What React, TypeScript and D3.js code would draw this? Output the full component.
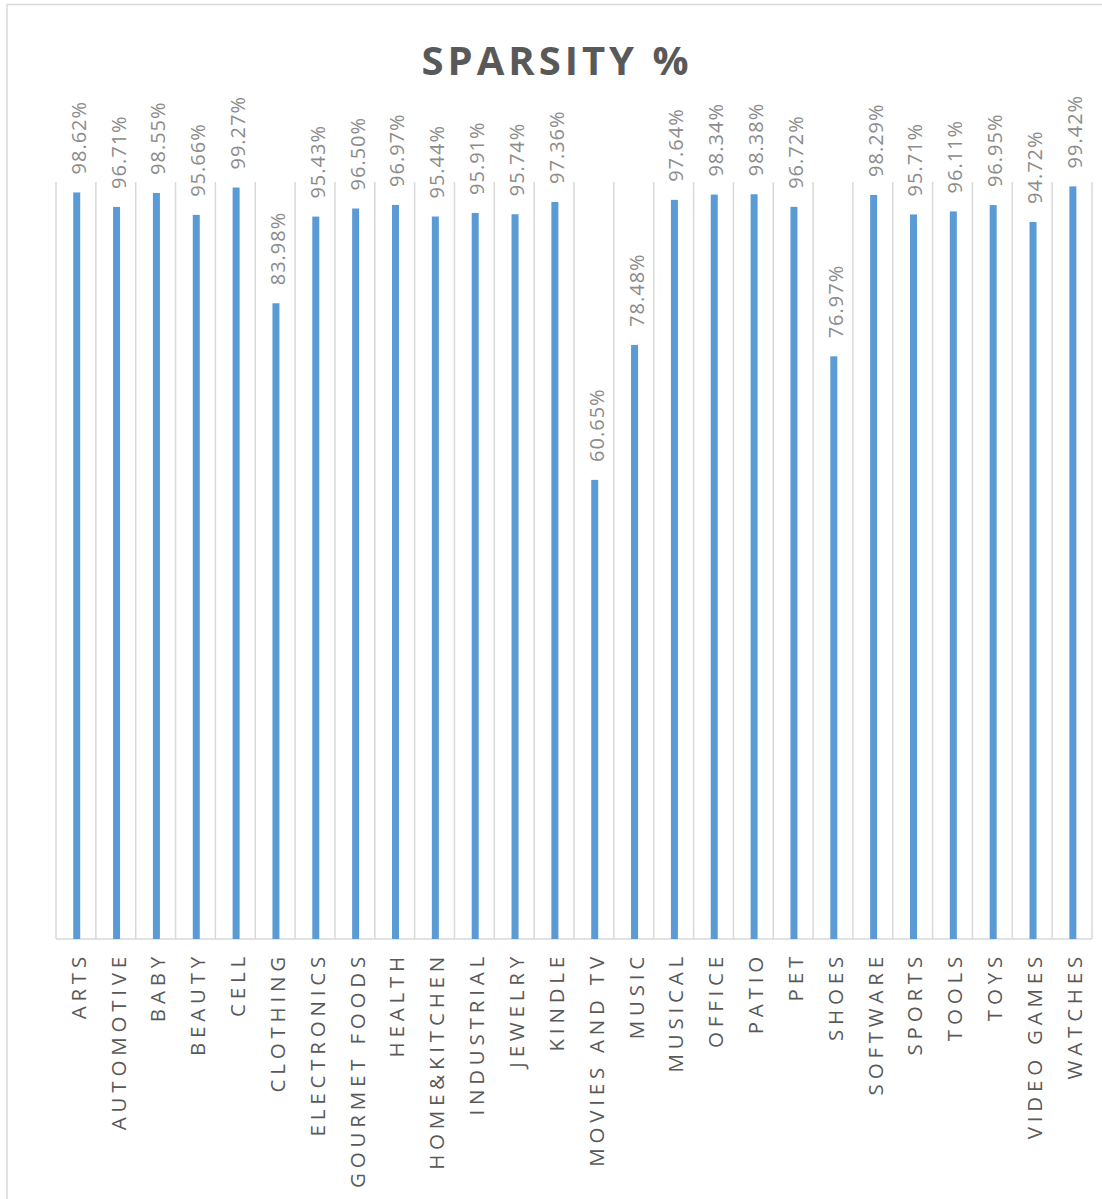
import React from "react";
import * as d3 from "d3";

const categories = [
  "ARTS", "AUTOMOTIVE", "BABY", "BEAUTY", "CELL", "CLOTHING", "ELECTRONICS",
  "GOURMET FOODS", "HEALTH", "HOME&KITCHEN", "INDUSTRIAL", "JEWELRY", "KINDLE",
  "MOVIES AND TV", "MUSIC", "MUSICAL", "OFFICE", "PATIO", "PET", "SHOES",
  "SOFTWARE", "SPORTS", "TOOLS", "TOYS", "VIDEO GAMES", "WATCHES",
];
const sparsity = [
  98.62, 96.71, 98.55, 95.66, 99.27, 83.98, 95.43, 96.5, 96.97, 95.44, 95.91,
  95.74, 97.36, 60.65, 78.48, 97.64, 98.34, 98.38, 96.72, 76.97, 98.29, 95.71,
  96.11, 96.95, 94.72, 99.42,
];
const yDomain = [0, 100];
const title = "SPARSITY %";

const W = 1102;
const H = 1199;
const plot = { left: 56, right: 1092, top: 182, bottom: 939 };
const FONT = "'Open Sans', 'DejaVu Sans', sans-serif";

export default function App() {
  const x = d3
    .scaleBand<string>()
    .domain(categories)
    .range([plot.left, plot.right])
    .paddingInner(0)
    .paddingOuter(0);
  const y = d3.scaleLinear().domain(yDomain).range([plot.bottom, plot.top]);
  const barW = 7;
  const bw = x.bandwidth();
  const gridXs = d3.range(categories.length + 1).map((i) => plot.left + i * bw);

  return (
    <svg
      width={W}
      height={H}
      style={{ position: "absolute", left: 0, top: 0, background: "#fff" }}
    >
      <rect x={0} y={0} width={W} height={H} fill="#fff" />
      <rect
        x={7}
        y={4.5}
        width={W + 20}
        height={H + 20}
        fill="none"
        stroke="#d9d9d9"
        strokeWidth={1.5}
      />
      <text
        x={557}
        y={75}
        textAnchor="middle"
        fontFamily={FONT}
        fontWeight={700}
        fontSize={40}
        fill="#595959"
        style={{ letterSpacing: "4px" }}
      >
        {title}
      </text>
      {gridXs.map((gx, i) => (
        <line
          key={"g" + i}
          x1={gx}
          x2={gx}
          y1={plot.top}
          y2={plot.bottom}
          stroke="#d9d9d9"
          strokeWidth={1.5}
        />
      ))}
      <line
        x1={plot.left}
        x2={plot.right}
        y1={plot.bottom}
        y2={plot.bottom}
        stroke="#d9d9d9"
        strokeWidth={1.5}
      />
      {categories.map((c, i) => {
        const cx = (x(c) as number) + bw / 2 + 0.8;
        const v = sparsity[i];
        const top = y(v);
        return (
          <g key={c}>
            <rect
              x={cx - barW / 2}
              y={top}
              width={barW}
              height={plot.bottom - top}
              fill="#5b9bd5"
            />
            <text
              transform={`translate(${cx + 9},${top - 18}) rotate(-90)`}
              fontFamily={FONT}
              fontSize={20}
              fill="#8c8c8c"
              style={{ letterSpacing: "1px" }}
            >
              {v.toFixed(2) + "%"}
            </text>
            <text
              transform={`translate(${cx + 9},${plot.bottom + 13}) rotate(-90)`}
              textAnchor="end"
              fontFamily={FONT}
              fontSize={20.5}
              fill="#595959"
              style={{ letterSpacing: "4.8px" }}
            >
              {c}
            </text>
          </g>
        );
      })}
    </svg>
  );
}
